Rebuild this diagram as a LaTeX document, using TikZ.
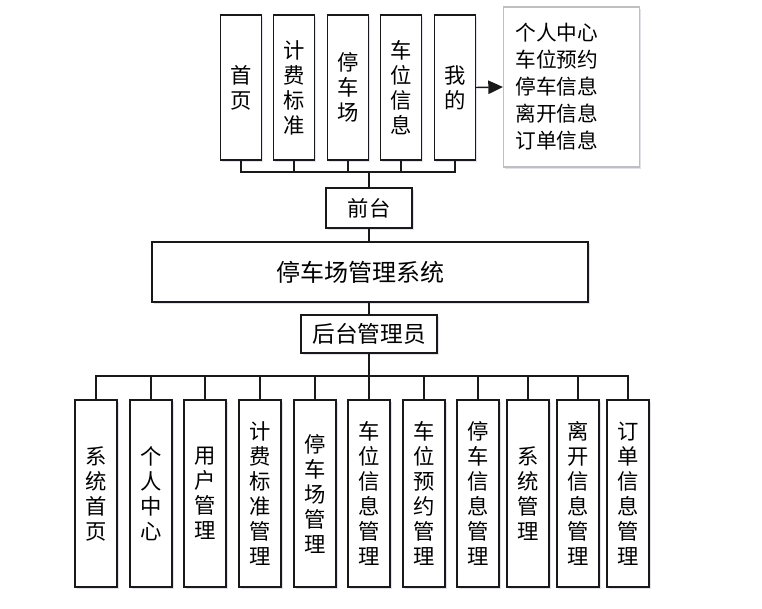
\documentclass[tikz,border=0pt]{standalone}
\usepackage{fontspec}
\newfontfamily\cjk{Noto Sans CJK SC}
\usepackage{tikz}
\usetikzlibrary{arrows.meta}
\usetikzlibrary{shadows}
\tikzset{
    softshadow/.style={drop shadow={shadow xshift=1.2pt, shadow yshift=-1.2pt, fill=blue!30!gray, opacity=0.18}},
    topbox/.style={draw=black!90, line width=1.1pt, fill=white, softshadow, minimum width=30.75pt, minimum height=108.75pt, inner sep=0pt, align=center, font=\cjk\fontsize{16}{18.75}\selectfont},
    botbox/.style={draw=black!90, line width=1.1pt, fill=white, softshadow, minimum width=31.5pt, minimum height=140.25pt, inner sep=0pt, align=center, font=\cjk\fontsize{16}{18.75}\selectfont},
    midbox/.style={draw=black!90, line width=1.1pt, fill=white, softshadow, inner sep=0pt},
    link/.style={draw=black!90, line width=1.1pt}
}

\begin{document}
\begin{tikzpicture}[x=0.75pt, y=-0.75pt]
    \useasboundingbox (0,0) rectangle (762,608);

    \node[topbox] (t1) at (241, 87.5) {首\\页};
    \node[topbox] (t2) at (294, 87.5) {计\\费\\标\\准};
    \node[topbox] (t3) at (348, 87.5) {停\\车\\场};
    \node[topbox] (t4) at (401, 87.5) {车\\位\\信\\息};
    \node[topbox] (t5) at (455, 87.5) {我\\的};

    \node[draw=black!25, line width=0.8pt, fill=white, softshadow, minimum height=120pt, inner xsep=9pt, text width=84pt, align=left, font=\cjk\fontsize{15.5}{20.2}\selectfont] (info) at (571.5, 87) {个人中心\\车位预约\\停车信息\\离开信息\\订单信息};

    \coordinate (tbus) at (369, 172);
    \coordinate (bbus) at (369, 376);

    \node[midbox, minimum width=64.5pt, minimum height=30pt, font=\cjk\fontsize{16}{18}\selectfont] (front) at (369, 208) {前台};
    \node[midbox, minimum width=327pt, minimum height=45pt, font=\cjk\fontsize{18}{20}\selectfont] (sys) at (370, 272) {停车场管理系统\hspace*{15pt}};
    \node[midbox, minimum width=102pt, minimum height=28.5pt, font=\cjk\fontsize{17}{19}\selectfont] (admin) at (369, 334) {后台管理员};

    \node[botbox] (b1) at (96, 493.5) {系\\统\\首\\页};
    \node[botbox] (b2) at (151, 493.5) {个\\人\\中\\心};
    \node[botbox] (b3) at (205, 493.5) {用\\户\\管\\理};
    \node[botbox] (b4) at (260, 493.5) {计\\费\\标\\准\\管\\理};
    \node[botbox] (b5) at (315, 493.5) {停\\车\\场\\管\\理};
    \node[botbox] (b6) at (369, 493.5) {车\\位\\信\\息\\管\\理};
    \node[botbox] (b7) at (424, 493.5) {车\\位\\预\\约\\管\\理};
    \node[botbox] (b8) at (478, 493.5) {停\\车\\信\\息\\管\\理};
    \node[botbox] (b9) at (528, 493.5) {系\\统\\管\\理};
    \node[botbox] (b10) at (578, 493.5) {离\\开\\信\\息\\管\\理};
    \node[botbox] (b11) at (628, 493.5) {订\\单\\信\\息\\管\\理};

    \draw[link] (t1.south) |- (tbus);
    \draw[link] (t2.south) |- (tbus);
    \draw[link] (t3.south) |- (tbus);
    \draw[link] (t4.south) |- (tbus);
    \draw[link] (t5.south) |- (tbus);
    \draw[link] (tbus) -- (front.north);
    \draw[link] (front.south) -- (sys.north -| front.south);
    \draw[link] (sys.south -| admin.north) -- (admin.north);
    \draw[link, -{Triangle[length=11pt, width=10pt]}] (t5.east) -- (info.west);

    \draw[link] (admin.south) -- (bbus);
    \draw[link] (bbus) -| (b1.north);
    \draw[link] (bbus) -| (b2.north);
    \draw[link] (bbus) -| (b3.north);
    \draw[link] (bbus) -| (b4.north);
    \draw[link] (bbus) -| (b5.north);
    \draw[link] (bbus) -- (b6.north);
    \draw[link] (bbus) -| (b7.north);
    \draw[link] (bbus) -| (b8.north);
    \draw[link] (bbus) -| (b9.north);
    \draw[link] (bbus) -| (b10.north);
    \draw[link] (bbus) -| (b11.north);
\end{tikzpicture}
\end{document}
